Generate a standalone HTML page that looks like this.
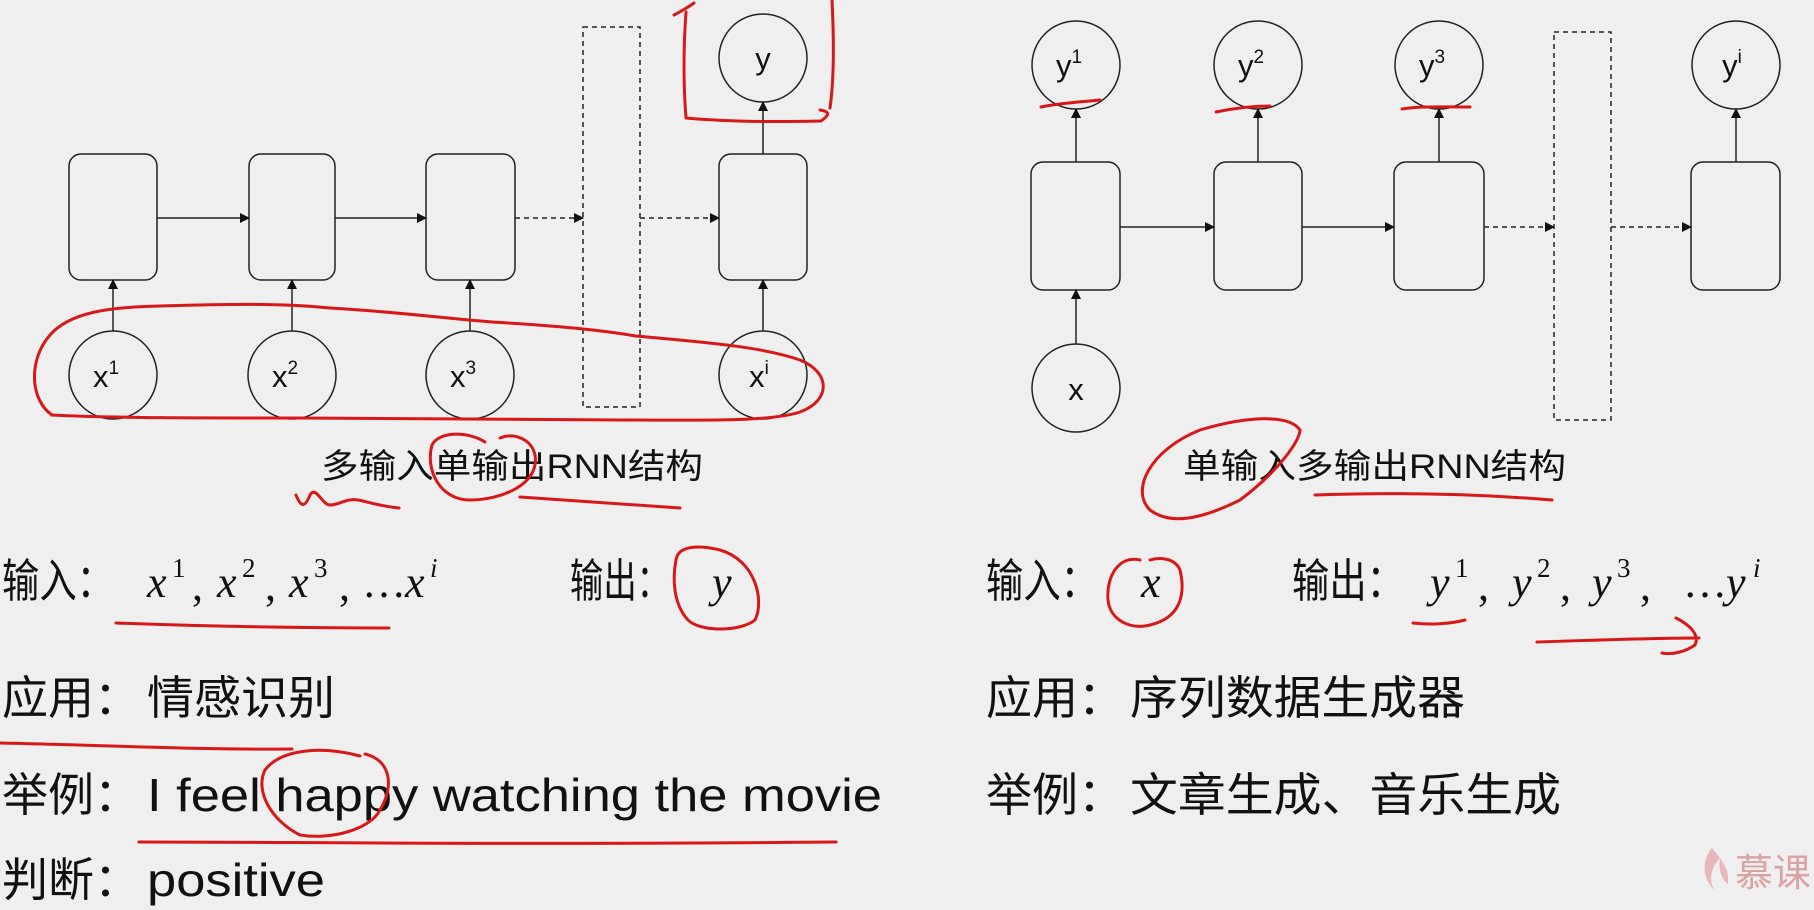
<!DOCTYPE html>
<html><head><meta charset="utf-8"><style>
html,body{margin:0;padding:0;background:#efefef;}
svg{display:block;}
.c{font-family:"Liberation Sans","Noto Sans CJK SC",sans-serif;fill:#111;}
.m{font-family:"Liberation Serif",serif;font-style:italic;fill:#111;}
.s{font-family:"Liberation Serif",serif;fill:#111;}
</style></head><body>
<svg width="1814" height="910" viewBox="0 0 1814 910" xmlns="http://www.w3.org/2000/svg">
<defs>
<marker id="ah" markerWidth="10" markerHeight="10" refX="9" refY="5" orient="auto" markerUnits="userSpaceOnUse"><path d="M0,0 L10,5 L0,10 z" fill="#111"/></marker>
</defs>
<rect width="1814" height="910" fill="#efefef"/>
<g fill="none" stroke="#222" stroke-width="1.5">
<rect x="69" y="154" width="88" height="126" rx="12"/>
<rect x="249" y="154" width="86" height="126" rx="12"/>
<rect x="426" y="154" width="89" height="126" rx="12"/>
<rect x="719" y="154" width="88" height="126" rx="12"/>
<rect x="583" y="27" width="57" height="380" stroke-dasharray="5,4"/>
<circle cx="763" cy="58" r="44"/>
<circle cx="113" cy="375" r="44"/>
<circle cx="292" cy="375" r="44"/>
<circle cx="470" cy="375" r="44"/>
<circle cx="763" cy="375" r="44"/>
<line x1="157" y1="218" x2="249" y2="218" marker-end="url(#ah)"/>
<line x1="335" y1="218" x2="426" y2="218" marker-end="url(#ah)"/>
<line x1="515" y1="218" x2="583" y2="218" stroke-dasharray="5,4" marker-end="url(#ah)"/>
<line x1="640" y1="218" x2="719" y2="218" stroke-dasharray="5,4" marker-end="url(#ah)"/>
<line x1="113" y1="331" x2="113" y2="280" marker-end="url(#ah)"/>
<line x1="292" y1="331" x2="292" y2="280" marker-end="url(#ah)"/>
<line x1="470" y1="331" x2="470" y2="280" marker-end="url(#ah)"/>
<line x1="763" y1="331" x2="763" y2="280" marker-end="url(#ah)"/>
<line x1="763" y1="154" x2="763" y2="102" marker-end="url(#ah)"/>
<rect x="1031" y="162" width="89" height="128" rx="12"/>
<rect x="1214" y="162" width="88" height="128" rx="12"/>
<rect x="1394" y="162" width="90" height="128" rx="12"/>
<rect x="1691" y="162" width="89" height="128" rx="12"/>
<rect x="1554" y="32" width="57" height="388" stroke-dasharray="5,4"/>
<circle cx="1076" cy="65" r="44"/>
<circle cx="1258" cy="65" r="44"/>
<circle cx="1439" cy="65" r="44"/>
<circle cx="1736" cy="65" r="44"/>
<circle cx="1076" cy="388" r="44"/>
<line x1="1120" y1="227" x2="1214" y2="227" marker-end="url(#ah)"/>
<line x1="1302" y1="227" x2="1394" y2="227" marker-end="url(#ah)"/>
<line x1="1484" y1="227" x2="1554" y2="227" stroke-dasharray="5,4" marker-end="url(#ah)"/>
<line x1="1611" y1="227" x2="1691" y2="227" stroke-dasharray="5,4" marker-end="url(#ah)"/>
<line x1="1076" y1="344" x2="1076" y2="290" marker-end="url(#ah)"/>
<line x1="1076" y1="162" x2="1076" y2="109" marker-end="url(#ah)"/>
<line x1="1258" y1="162" x2="1258" y2="109" marker-end="url(#ah)"/>
<line x1="1439" y1="162" x2="1439" y2="109" marker-end="url(#ah)"/>
<line x1="1736" y1="162" x2="1736" y2="109" marker-end="url(#ah)"/>
</g>
<g class="c" font-size="31" text-anchor="middle">
<text x="763" y="69">y</text>
<text x="106" y="387">x<tspan font-size="19" dy="-13">1</tspan></text>
<text x="285" y="387">x<tspan font-size="19" dy="-13">2</tspan></text>
<text x="463" y="387">x<tspan font-size="19" dy="-13">3</tspan></text>
<text x="759" y="387">x<tspan font-size="19" dy="-13">i</tspan></text>
<text x="1069" y="76">y<tspan font-size="19" dy="-13">1</tspan></text>
<text x="1251" y="76">y<tspan font-size="19" dy="-13">2</tspan></text>
<text x="1432" y="76">y<tspan font-size="19" dy="-13">3</tspan></text>
<text x="1732" y="76">y<tspan font-size="19" dy="-13">i</tspan></text>
<text x="1076" y="400">x</text>
</g>
<text class="c" x="321" y="478" font-size="34" textLength="382" lengthAdjust="spacingAndGlyphs">多输入单输出RNN结构</text>
<text class="c" x="1183" y="478" font-size="34" textLength="383" lengthAdjust="spacingAndGlyphs">单输入多输出RNN结构</text>
<g class="c" font-size="46">
<text x="2" y="597" textLength="112" lengthAdjust="spacingAndGlyphs">输入：</text>
<text x="570" y="597" textLength="100" lengthAdjust="spacingAndGlyphs">输出：</text>
<text x="2" y="714">应用：</text>
<text x="147" y="714" textLength="188" lengthAdjust="spacingAndGlyphs">情感识别</text>
<text x="2" y="811">举例：</text>
<text x="147" y="811" textLength="735" lengthAdjust="spacingAndGlyphs">I feel happy watching the movie</text>
<text x="2" y="896">判断：</text>
<text x="147" y="896" textLength="178" lengthAdjust="spacingAndGlyphs">positive</text>
</g>
<g font-size="44">
<text class="m" x="147" y="597">x</text><text class="s" x="172" y="577" font-size="27">1</text><text class="s" x="192" y="600">,</text>
<text class="m" x="217" y="597">x</text><text class="s" x="242" y="577" font-size="27">2</text><text class="s" x="265" y="600">,</text>
<text class="m" x="289" y="597">x</text><text class="s" x="314" y="577" font-size="27">3</text><text class="s" x="339" y="600">,</text>
<text class="s" x="362" y="597">…</text>
<text class="m" x="405" y="597">x</text><text class="m" x="430" y="577" font-size="27">i</text>
<text class="m" x="712" y="597">y</text>
<text class="m" x="1141" y="597">x</text>
<text class="m" x="1430" y="597">y</text><text class="s" x="1455" y="577" font-size="27">1</text><text class="s" x="1478" y="600">,</text>
<text class="m" x="1512" y="597">y</text><text class="s" x="1537" y="577" font-size="27">2</text><text class="s" x="1560" y="600">,</text>
<text class="m" x="1592" y="597">y</text><text class="s" x="1617" y="577" font-size="27">3</text><text class="s" x="1640" y="600">,</text>
<text class="s" x="1683" y="597">…</text>
<text class="m" x="1726" y="597">y</text><text class="m" x="1753" y="577" font-size="27">i</text>
</g>
<g class="c" font-size="46">
<text x="986" y="597" textLength="112" lengthAdjust="spacingAndGlyphs">输入：</text>
<text x="1292" y="597" textLength="112" lengthAdjust="spacingAndGlyphs">输出：</text>
<text x="986" y="714">应用：</text>
<text x="1130" y="714" textLength="335" lengthAdjust="spacingAndGlyphs">序列数据生成器</text>
<text x="986" y="811">举例：</text>
<text x="1130" y="811" textLength="431" lengthAdjust="spacingAndGlyphs">文章生成、音乐生成</text>
</g>
<path d="M1712,848 C1700,862 1704,880 1714,890 C1708,878 1712,866 1720,858 C1718,870 1722,880 1728,884 C1730,870 1722,860 1712,848z" fill="#e8b8b8"/>
<text x="1735" y="886" font-size="38" fill="#d9a3a3" font-family="'Noto Sans CJK SC',sans-serif">慕课网</text>
<g fill="none" stroke="#d81818" stroke-width="3" stroke-linecap="round" stroke-linejoin="round">
<path d="M52,415 C30,400 28,360 50,335 C70,312 110,307 160,306 C230,304 280,303 330,308 C400,312 440,318 492,322 C560,326 600,330 636,336 C700,342 760,346 800,360 C830,372 832,400 800,412 C770,422 700,420 620,420 C500,420 400,418 300,418 C200,418 110,418 52,415"/>
<path d="M694,3 C690,6 680,12 674,15"/>
<path d="M686,12 C684,40 683,80 686,118 C730,122 780,122 821,121 C828,116 832,112 820,110 M832,0 C834,40 834,80 830,108"/>
<path d="M485,442 C470,432 440,430 432,445 C425,470 440,500 470,500 C500,500 540,485 535,455 C532,440 515,432 500,438"/>
<path d="M296,495 C300,505 304,510 310,495 C316,485 322,505 330,505 C338,505 345,500 350,500 C360,498 370,505 399,508"/>
<path d="M520,497 C570,500 620,504 680,508"/>
<path d="M1300,430 C1290,415 1250,415 1200,430 C1150,450 1130,490 1150,510 C1170,525 1200,520 1240,500 C1280,470 1300,440 1300,430"/>
<path d="M1315,495 C1400,492 1480,494 1552,500"/>
<path d="M1041,107 C1060,103 1080,102 1100,100"/>
<path d="M1216,112 C1240,107 1260,106 1270,106"/>
<path d="M1402,109 C1420,106 1440,107 1470,107"/>
<path d="M116,623 C200,626 300,628 389,628"/>
<path d="M676,560 C678,545 700,545 720,550 C755,560 765,600 755,620 C740,632 700,632 688,620 C674,605 672,580 676,560"/>
<path d="M0,743 C100,745 200,750 292,749"/>
<path d="M360,756 C320,745 280,750 265,770 C255,790 270,820 300,835 C330,840 370,830 380,810 C395,785 390,760 365,754"/>
<path d="M139,842 C300,842 500,845 836,842"/>
<path d="M1140,560 C1120,555 1106,575 1108,600 C1110,620 1130,630 1150,625 C1180,618 1186,595 1180,570 C1175,558 1160,557 1150,560"/>
<path d="M1413,623 C1430,625 1450,624 1465,620"/>
<path d="M1537,642 C1600,640 1650,638 1699,638 M1676,618 C1690,625 1700,635 1695,645 C1685,652 1672,655 1662,653"/>
</g>
</svg>
</body></html>
